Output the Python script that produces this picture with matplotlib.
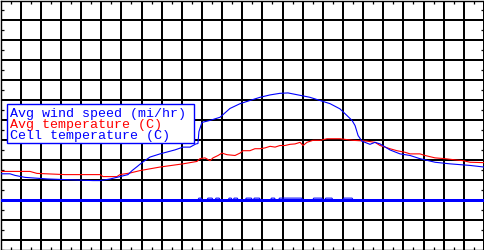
import matplotlib
matplotlib.use("Agg")
import matplotlib.pyplot as plt
from matplotlib.ticker import MultipleLocator
from matplotlib.patches import Rectangle

# ---- data (hour of day, value) ----
temp_hours = [0.0, 1.46, 1.81, 3.20, 4.94, 5.09, 5.78, 5.93, 6.43, 6.92, 7.92, 9.06,
              9.75, 9.90, 10.15, 10.40, 10.55, 10.80, 10.99, 11.24, 11.64, 11.89, 12.04,
              12.38, 12.63, 12.88, 13.13, 13.38, 13.63, 13.87, 14.12, 14.37, 14.62, 14.87,
              15.02, 15.21, 15.51, 15.86, 16.21, 16.85, 17.50, 18.19, 18.59, 18.84, 19.09,
              19.33, 19.68, 20.08, 20.33, 20.82, 21.07, 21.57, 22.06, 22.56, 22.96, 23.31,
              24.0]
avg_temp = [7.1, 7.1, 6.6, 6.3, 6.3, 5.8, 5.8, 6.3, 6.7, 7.3, 8.2, 9.0,
            9.6, 10.3, 10.5, 9.8, 10.5, 11.1, 11.7, 11.3, 11.1, 11.7, 12.3,
            12.3, 12.8, 12.8, 13.0, 13.4, 13.2, 13.6, 13.6, 13.9, 14.0, 14.4,
            13.6, 14.4, 14.9, 14.9, 15.3, 15.3, 14.9, 14.7, 14.4, 13.6, 13.2,
            12.8, 12.3, 11.9, 11.5, 11.5, 11.1, 10.5, 10.3, 10.0, 9.8, 9.4,
            9.3]

cell_hours = [0.0, 0.47, 0.72, 1.22, 2.36, 3.45, 4.59, 4.94, 5.44, 5.93, 6.33, 6.53,
              6.78, 7.02, 7.42, 7.92, 8.66, 9.06, 9.41, 9.70, 9.80, 9.85, 10.00, 10.40,
              10.90, 11.39, 11.89, 12.38, 12.88, 13.38, 13.87, 14.27, 14.87, 15.36, 15.86,
              16.36, 16.85, 17.10, 17.45, 17.60, 17.75, 17.94, 18.34, 18.59, 18.84, 19.33,
              19.83, 20.33, 20.82, 21.57, 22.31, 23.31, 24.0]
cell_temp = [6.5, 6.5, 6.1, 5.6, 5.2, 5.0, 4.8, 4.8, 5.2, 5.8, 6.3, 7.3,
             8.3, 9.3, 10.7, 11.5, 12.5, 13.2, 13.2, 14.0, 14.1, 17.1, 19.4, 19.9,
             20.7, 22.9, 24.1, 24.9, 25.7, 26.3, 26.7, 26.8, 26.2, 25.7, 24.9,
             24.1, 22.8, 21.6, 19.9, 18.6, 16.1, 14.7, 13.9, 14.4, 14.0, 12.5,
             11.5, 11.1, 10.3, 9.4, 9.0, 8.6, 8.2]

wind_hours = [0.0, 9.80, 9.85, 9.95, 10.00, 10.25, 10.30, 10.50, 10.55, 10.65, 10.70,
              10.85, 10.90, 11.30, 11.35, 11.45, 11.50, 11.55, 11.60, 11.75, 11.80,
              12.15, 12.20, 12.45, 12.50, 12.55, 12.60, 12.85, 12.90, 13.40, 13.45,
              13.60, 13.65, 13.80, 13.85, 14.95, 15.00, 15.50, 15.55, 15.95, 16.00,
              16.10, 16.15, 16.45, 16.50, 17.00, 17.05, 17.45, 17.50, 24.0]
wind_speed = [0.0, 0.0, 0.4, 0.4, 0.0, 0.0, 0.4, 0.4, 0.0, 0.0, 0.4,
              0.4, 0.0, 0.0, 0.4, 0.4, 0.0, 0.0, 0.4, 0.4, 0.0,
              0.0, 0.4, 0.4, 0.0, 0.0, 0.4, 0.4, 0.0, 0.0, 0.4,
              0.4, 0.0, 0.0, 0.4, 0.4, 0.0, 0.0, 0.4, 0.4, 0.0,
              0.0, 0.4, 0.4, 0.0, 0.0, 0.4, 0.4, 0.0, 0.0]

legend_labels = ["Avg wind speed (mi/hr)", "Avg temperature (C)", "Cell temperature (C)"]
legend_colors = ["#0000ff", "#ff0000", "#0000ff"]

BLUE = "#0000ff"
RED = "#ff0000"

W, H = 485, 250
fig = plt.figure(figsize=(W / 100, H / 100), dpi=100)
ax = fig.add_axes([0.5 / W, 0.5 / H, 483.5 / W, 249 / H])
ax.set_xlim(0, 24)
ax.set_ylim(-12.5, 50)
ax.xaxis.set_major_locator(MultipleLocator(1))
ax.xaxis.set_minor_locator(MultipleLocator(0.5))
ax.yaxis.set_major_locator(MultipleLocator(5))
ax.yaxis.set_minor_locator(MultipleLocator(2.5))
ax.grid(True, which="major", color="black", linewidth=1.44, antialiased=False)
ax.set_axisbelow(True)
ax.tick_params(which="both", direction="in", top=True, right=True,
               labelbottom=False, labelleft=False)
ax.tick_params(which="major", length=0)
ax.tick_params(which="minor", length=2.4, width=0.9, color="black")
for s in ax.spines.values():
    s.set_linewidth(1.0)
    s.set_color("black")

ax.axhline(0, color=BLUE, lw=1.9, antialiased=False, zorder=3)
ax.plot(wind_hours, wind_speed, color=BLUE, lw=0.75, zorder=4)
ax.plot(temp_hours, avg_temp, color=RED, lw=0.8, zorder=4)
ax.plot(cell_hours, cell_temp, color=BLUE, lw=0.8, zorder=5)

# legend box
rect = Rectangle((7 / W, 1 - 143 / H), 187.5 / W, 39 / H, transform=fig.transFigure,
                 facecolor="white", edgecolor=BLUE, linewidth=1.0, zorder=10)
fig.add_artist(rect)
baselines = [117.0, 128.0, 139.0]
for lab, col, b in zip(legend_labels, legend_colors, baselines):
    fig.text(10 / W, 1 - b / H, lab, color=col, family="Liberation Mono",
             fontsize=9.6, va="baseline", ha="left", zorder=11)

fig.savefig("out.png", dpi=100)
